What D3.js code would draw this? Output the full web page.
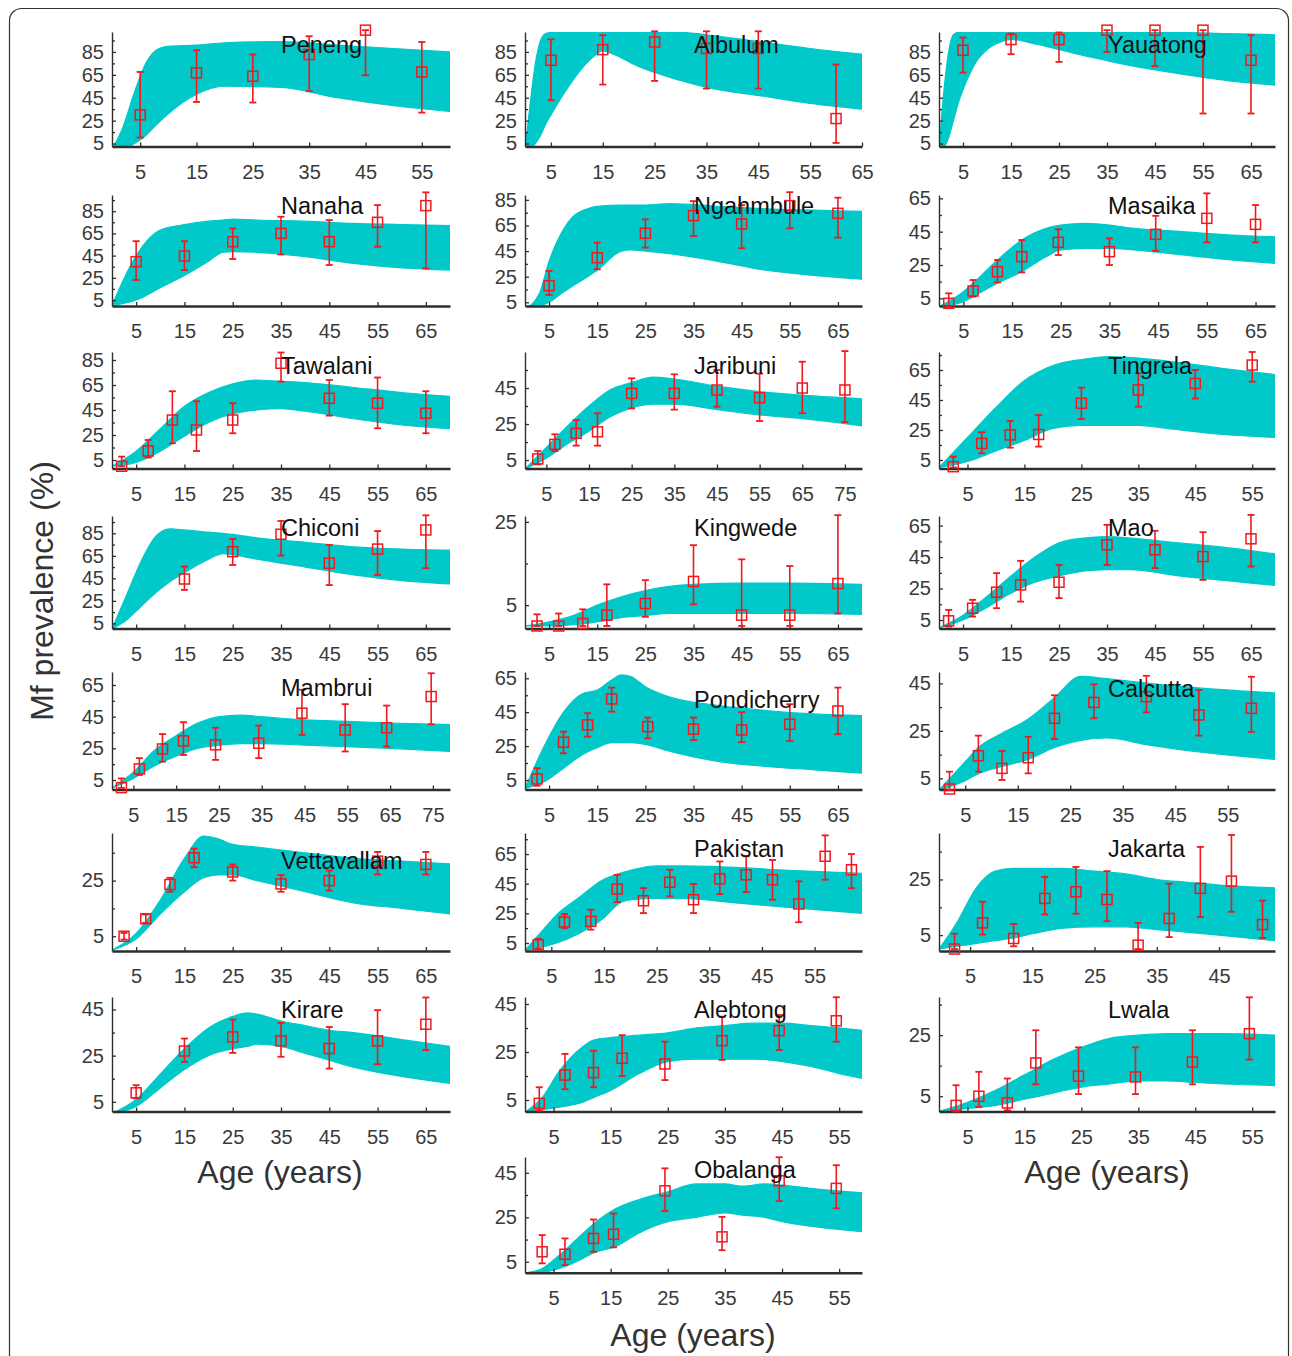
<!DOCTYPE html>
<html>
<head>
<meta charset="utf-8">
<script src="https://cdn.jsdelivr.net/npm/d3@7"></script>
<style>
body { margin: 0; background: #fff; }
svg text { font-family: "Liberation Sans", Arial, Helvetica, sans-serif; }
</style>
</head>
<body>
<div id="chart"></div>
<script>
// Site names, in panel order (3 per row, last one centred)
const sites = ["Peneng", "Albulum", "Yauatong", "Nanaha", "Ngahmbule", "Masaika",
  "Tawalani", "Jaribuni", "Tingrela", "Chiconi", "Kingwede", "Mao",
  "Mambrui", "Pondicherry", "Calcutta", "Vettavallam", "Pakistan", "Jakarta",
  "Kirare", "Alebtong", "Lwala", "Obalanga"];

// Axis extents per panel
const xMax = [60, 65, 70, 70, 70, 69, 70, 79, 59, 70, 70, 70, 79, 70, 64, 70, 64, 54, 70, 59, 59, 59];
const yLo = [2.4, 2.4, 2.4, -0.4, 2.1, 0.4, -1.8, 0.3, -0.7, 0.4, -0.6, -0.4, -1, -0.6, 0.3, -0.3, -0.4, -0.7, 0.8, 0.2, 0, 0.1];
const yHi = [102.4, 102.4, 102.4, 99.6, 88.8, 67, 91.4, 65, 77, 100.4, 26.4, 71.1, 73.2, 68.7, 49.8, 42.1, 79.2, 41.7, 50.4, 47.9, 37.5, 52.1];
const yTicks = [
  [5, 25, 45, 65, 85], [5, 25, 45, 65, 85], [5, 25, 45, 65, 85],
  [5, 25, 45, 65, 85], [5, 25, 45, 65, 85], [5, 25, 45, 65],
  [5, 25, 45, 65, 85], [5, 25, 45], [5, 25, 45, 65],
  [5, 25, 45, 65, 85], [5, 25], [5, 25, 45, 65],
  [5, 25, 45, 65], [5, 25, 45, 65], [5, 25, 45],
  [5, 25], [5, 25, 45, 65], [5, 25],
  [5, 25, 45], [5, 25, 45], [5, 25],
  [5, 25, 45]];

// Observed Mf prevalence: age, value, lower and upper bound of the error bar
const obsAge = [
  [5, 15, 25, 35, 45, 55],
  [5, 15, 25, 35, 45, 60],
  [5, 15, 25, 35, 45, 55, 65],
  [5, 15, 25, 35, 45, 55, 65],
  [5, 15, 25, 35, 45, 55, 65],
  [2, 7, 12, 17, 24.5, 35, 44.5, 55, 65],
  [2, 7.5, 12.5, 17.5, 25, 35, 45, 55, 65],
  [3, 7, 12, 17, 25, 35, 45, 55, 65, 75],
  [2.5, 7.5, 12.5, 17.5, 25, 35, 45, 55],
  [15, 25, 35, 45, 55, 65],
  [2.5, 7, 12, 17, 25, 35, 45, 55, 65],
  [2, 7, 12, 17, 25, 35, 45, 55, 65],
  [2.2, 6.4, 11.8, 16.7, 24.2, 34.3, 44.4, 54.5, 64.2, 74.6],
  [2.5, 8, 13, 18, 25.5, 35, 45, 55, 65],
  [2, 7.5, 12, 17, 22, 29.5, 39.5, 49.5, 59.5],
  [2.5, 7, 12, 17, 25, 35, 45, 55, 65],
  [2.5, 7.5, 12.5, 17.5, 22.5, 27.5, 32, 37, 42, 47, 52, 57, 62],
  [2.5, 7, 12, 17, 22, 27, 32, 37, 42, 47, 52],
  [5, 15, 25, 35, 45, 55, 65],
  [2.5, 7, 12, 17, 24.5, 34.5, 44.5, 54.5],
  [3, 7, 12, 17, 24.5, 34.5, 44.5, 54.5],
  [3, 7, 12, 15.5, 24.5, 34.5, 44.5, 54.5]];
const obsVal = [
  [30, 66.7, 63.8, 82.7, 104, 67.5],
  [77.7, 87, 93.7, 88, 88, 26.8],
  [86.5, 95.8, 95.8, 104, 104, 104, 77.7],
  [39.5, 44.6, 57.5, 65, 57.5, 75, 90],
  [18, 39.8, 58.9, 72.7, 66.2, 80.5, 74.5],
  [2, 9.4, 21, 30, 38.6, 33, 43.4, 53, 49.4],
  [0, 12.2, 37, 29, 37, 82.4, 54.4, 50.4, 42.4],
  [5.6, 13.7, 19.8, 20.7, 42, 42, 43.9, 39.6, 45, 43.9],
  [0.5, 16, 21.7, 22, 42.8, 51.7, 56, 68.3],
  [44.4, 68.7, 84.2, 58.4, 71, 88],
  [0, 0, 0.6, 2.6, 5.4, 10.7, 2.6, 2.6, 10.2],
  [4.5, 12.5, 22.7, 27.3, 29, 52.8, 49.6, 45.3, 56.6],
  [0.2, 12, 24.6, 29.7, 27.2, 28.2, 47.2, 36.6, 38, 57.7],
  [5.6, 27.3, 37.5, 52.8, 36.5, 35, 34.5, 37.9, 45.7],
  [0.5, 14.5, 9.2, 13.7, 30.3, 37, 39.4, 31.7, 34.5],
  [5, 11.3, 23.6, 33.2, 28.1, 23.8, 25, 32, 30.8],
  [3.8, 19.2, 19.6, 41.4, 33.5, 46, 34.2, 48.3, 51, 47.7, 31.3, 63.5, 54.4],
  [0, 9.4, 3.8, 18.2, 20.6, 17.8, 1.4, 11, 21.8, 24.4, 8.8],
  [8.9, 27, 33.1, 31.4, 28.1, 31.4, 38.6],
  [3.6, 15.4, 16.4, 22.4, 20, 29.7, 33.9, 38],
  [2, 5, 2.8, 15.9, 11.6, 11.3, 16.2, 25.5],
  [9.5, 8.4, 15.5, 17.4, 36.9, 16.2, 41.4, 38]];
const obsLow = [
  [10.2, 41.3, 40.8, 50.7, 64.6, 32],
  [42.8, 56.5, 59.7, 53, 53, 5.5],
  [67, 83, 76.3, 85, 72.5, 31.2, 31.2],
  [23, 32, 41.9, 46, 36.5, 53, 33.5],
  [10.7, 30.8, 47.7, 56.8, 47.2, 62.8, 55.5],
  [0, 6, 14.6, 20.6, 31, 25, 33.5, 38.6, 38.6],
  [0, 7, 18.4, 12.2, 26.4, 67.7, 40.5, 30.4, 26.4],
  [2.6, 10, 13, 13, 33.7, 33, 34.6, 26.7, 31, 26],
  [0, 9.5, 13.2, 13.9, 32.3, 40.5, 46, 57.2],
  [34.7, 56.9, 65.2, 39, 48, 54],
  [0, 0, 0, 0, 2.2, 5.2, 0, 0, 3],
  [0.8, 7.2, 12.5, 16.7, 18.9, 40, 38, 30.5, 39],
  [0, 8.2, 16.6, 20.8, 17.7, 18.8, 33.5, 23, 26.1, 40.2],
  [1.6, 20.8, 30.6, 45.3, 29.6, 28.6, 27.3, 28, 32],
  [0, 7.8, 4.3, 7.1, 21.6, 30.3, 32.8, 23, 24.6],
  [3.8, 9.8, 21, 29.8, 25, 21, 21.4, 27.2, 27.2],
  [1.1, 15.1, 14, 32.6, 25.2, 36.5, 25.2, 38, 39.4, 34.2, 19, 47.7, 42],
  [0, 5.2, 1, 12.4, 12.7, 10, 0, 4.3, 11.5, 13.4, 4],
  [6.5, 22.3, 26.2, 24.5, 19.4, 21.3, 27.4],
  [0.5, 9.5, 10.3, 15, 13.3, 21.7, 25.8, 29.3],
  [0, 1.5, 0.4, 8.9, 5.7, 5.7, 8.9, 17],
  [4.3, 3.5, 9.5, 11.5, 27.9, 10.2, 32.3, 29]];
const obsHigh = [
  [67.5, 86.5, 82.7, 98.7, 104, 93.7],
  [96, 99.6, 103, 103, 103, 74],
  [97.6, 101, 102, 104, 104, 104, 99.6],
  [58, 58, 69.5, 80, 77, 90.5, 102],
  [29.5, 51.6, 69.8, 84, 81, 91, 86.7],
  [8, 16, 28, 40, 46.4, 41, 54.5, 68, 61],
  [7.7, 21, 60, 52, 50.4, 91, 69, 71, 60],
  [10, 19.3, 27.2, 31, 50.4, 52.6, 55, 53, 59.6, 65.5],
  [7.2, 23.5, 31, 35, 53.2, 62.8, 65, 77],
  [55.4, 80, 96, 74.7, 87, 101],
  [2.8, 3, 4, 10, 11, 19.4, 16, 14.4, 26.6],
  [11.4, 17.8, 34.8, 42.6, 40, 65.5, 61.7, 60.8, 71.8],
  [6, 18.8, 34, 41.5, 38, 39.4, 62, 52.9, 52, 72.4],
  [12, 33.5, 44.4, 59.5, 41.8, 41.8, 45, 49.7, 59.5],
  [7.8, 23, 16.5, 22.5, 40, 44.6, 48.2, 42.2, 47.8],
  [6.2, 12.8, 26, 36.5, 30.8, 27, 28.6, 35.3, 35.3],
  [7.9, 24.5, 27.4, 51, 42, 54.4, 44.8, 60, 63.5, 61, 46.6, 77.6, 65],
  [5.5, 17, 9, 25.9, 29.5, 28, 9.4, 23.5, 36.7, 41, 17.4],
  [12.2, 32.4, 40.6, 39.2, 37.4, 44.7, 50.2],
  [10.3, 24.2, 25.5, 32, 29.3, 39.7, 40.4, 47.8],
  [8.6, 13, 10.8, 26.6, 21, 21, 26.6, 37.4],
  [17, 15.5, 24, 26.7, 47, 25.2, 52, 48.4]];

// Envelope of the model fits (band of fitted curves): age, lower edge, upper edge
const bandAge = [
  [0, 2, 4, 6, 8, 10, 15, 20, 30, 40, 50, 60],
  [0, 1, 2, 3, 4, 5, 7, 10, 13, 15, 17, 22, 30, 35, 45, 55, 65],
  [0, 1, 2, 3, 4, 6, 8, 10, 13, 15, 20, 30, 40, 50, 60, 70],
  [0, 5, 10, 15, 20, 23, 25, 30, 40, 50, 60, 70],
  [0, 3, 5, 8, 10, 13, 15, 20, 22, 25, 30, 40, 50, 60, 70],
  [0, 5, 7, 12, 17, 22, 25, 30, 35, 40, 50, 60, 69],
  [0, 5, 10, 15, 20, 25, 30, 35, 40, 50, 60, 70],
  [0, 5, 10, 15, 20, 25, 30, 35, 45, 55, 65, 79],
  [0, 5, 10, 15, 20, 25, 30, 35, 40, 50, 59],
  [0, 3, 6, 9, 12, 15, 20, 23, 25, 30, 40, 50, 60, 70],
  [0, 5, 10, 15, 20, 25, 30, 35, 45, 55, 70],
  [0, 5, 10, 15, 20, 25, 30, 35, 40, 50, 60, 70],
  [0, 5, 10, 15, 20, 25, 30, 35, 45, 55, 65, 79],
  [0, 4, 8, 12, 15, 18, 20, 22, 25, 30, 40, 50, 60, 70],
  [0, 5, 7.5, 12, 17, 22, 27, 32, 40, 50, 64],
  [0, 5, 10, 15, 19, 22, 25, 30, 40, 50, 60, 70],
  [0, 3, 6, 10, 15, 18, 20, 25, 30, 40, 50, 64],
  [0, 3, 6, 9, 12, 15, 20, 25, 30, 35, 40, 45, 54],
  [0, 5, 10, 15, 20, 25, 28, 30, 35, 40, 45, 50, 60, 70],
  [0, 3, 6, 10, 12, 15, 20, 25, 30, 35, 40, 45, 50, 55, 59],
  [0, 5, 10, 15, 20, 25, 30, 35, 40, 45, 50, 59],
  [0, 3, 6, 9, 12, 16, 20, 25, 30, 35, 38, 42, 45, 50, 59]];
const bandLow = [
  [0, 0, 5, 12, 22, 31, 48, 55, 54, 45, 38, 33],
  [0, 1, 5, 12, 22, 30, 45, 65, 80, 86, 83, 72, 60, 54, 47, 40, 35],
  [0, 2, 10, 25, 40, 62, 78, 87, 94, 96, 92, 82, 73, 66, 60, 56],
  [0, 5, 16, 27, 40, 48, 48.5, 48, 44, 38, 34, 32],
  [0, 2, 5, 13, 18, 25, 30, 45, 46, 45, 43, 37, 30, 26, 23],
  [0, 3, 6, 14, 21, 30, 34, 35, 35, 34, 31, 28, 26],
  [0, 3, 12, 24, 35, 42, 45, 46, 44, 38, 33, 30],
  [0, 6, 14, 21, 29, 34, 36, 36, 33, 30, 28, 24],
  [0, 4, 11, 18, 26, 28, 28, 28, 26, 22, 20],
  [0, 8, 20, 32, 42, 50, 62, 67, 66, 62, 55, 48, 43, 40],
  [0, 0, 0.3, 1, 2, 2.5, 3, 3, 3, 3, 2.8],
  [0, 5, 13, 22, 29, 33, 36, 37, 37, 33, 30, 27],
  [0, 6, 14, 20, 25, 27, 28, 28, 27, 26, 25, 23],
  [0, 4, 12, 20, 24, 27, 27, 27, 26, 22, 16, 13, 11, 9],
  [0, 4, 7, 10, 13, 18, 21, 22, 19, 16, 13],
  [0, 4, 13, 21, 26, 27, 27, 25, 21, 17, 15, 13],
  [0, 2, 5, 11, 22, 32, 34, 35, 35, 32, 29, 25],
  [0, 1, 2, 3, 4, 5.5, 7.5, 8, 8, 7, 6, 5, 3],
  [0, 3, 11, 19, 25, 28, 29, 30, 29, 26, 23, 20, 16, 13],
  [0, 1, 2, 4, 6, 9, 16, 21, 22, 22, 22, 21, 19, 16, 14],
  [0, 1, 2, 4, 6, 8, 9, 10, 10, 9.5, 9, 8.5],
  [0, 0.3, 2, 5, 9, 12, 18, 23, 25, 27, 26, 25, 23, 21, 18.5]];
const bandHigh = [
  [0, 20, 50, 75, 87, 90, 91, 93, 94, 91, 88, 85],
  [0, 40, 75, 95, 101, 102, 102, 102, 102, 102, 102, 102, 102, 100, 94, 88, 83],
  [0, 50, 85, 100, 102, 102, 102, 102, 102, 102, 102, 102, 102, 102, 101, 100],
  [0, 45, 68, 73, 76, 77, 78, 77, 76, 74, 73, 72],
  [0, 12, 37, 62, 72, 78, 80, 81, 81, 81, 82, 80, 78, 77, 76],
  [0, 9, 14, 28, 40, 47, 49, 50, 49, 47, 45, 43, 42],
  [0, 12, 30, 48, 59, 66, 69, 68, 67, 63, 59, 56],
  [0, 12, 24, 35, 44, 48, 51, 50, 46, 43, 41, 39],
  [0, 20, 40, 58, 68, 72, 74, 73, 71, 66, 62],
  [0, 30, 60, 82, 89, 88, 86, 85, 84, 81, 77, 73, 71, 70],
  [0, 1, 2.5, 5, 7, 8.5, 9.5, 10, 10.3, 10.3, 10],
  [0, 8, 20, 33, 45, 54, 57, 58, 57, 54, 51, 47],
  [0, 10, 24, 33, 41, 45, 46, 45, 43, 42, 41, 40],
  [0, 25, 45, 56, 58, 64, 67, 66, 60, 54, 49, 46, 44, 43],
  [0, 12, 18, 24, 30, 39, 48, 47, 45, 43, 41],
  [0, 6, 18, 33, 41, 40, 38, 37, 35, 33, 32, 31],
  [0, 12, 24, 35, 48, 52, 54, 57, 57, 56, 54, 52],
  [0, 10, 22, 28, 29, 29, 29, 28, 27, 25, 24, 23, 22],
  [0, 6, 17, 28, 37, 42, 43.5, 43, 40, 38, 36, 35, 32, 29],
  [0, 6, 17, 27, 30, 31, 32, 33, 35, 36, 37, 37, 36, 35, 34],
  [0, 3, 7, 12, 17, 21, 24, 25, 25.5, 25.5, 25.5, 25],
  [0, 2, 8, 15, 22, 29, 33, 36.5, 40, 40, 39, 40, 39.5, 38, 36]];

// Page layout
const W = 1292, H = 1356;
const colLeft = [112, 525, 939];
const colRight = [450, 862, 1275];
const rowTop = [32, 195, 352, 516, 672, 833, 997, 1157];
const rowBot = [146.5, 306, 468.5, 628.5, 789.5, 951, 1111.5, 1272.7];
const titleOffset = [13, 13, 13, 11, 11, 11, 14, 14, 14, 12, 12, 12, 16, 28, 17, 28, 16, 16, 13, 13, 13, 13];

const cyan = "#02c9c9";
const red = "#f0191e";

const svg = d3.select("#chart").append("svg")
  .attr("width", W)
  .attr("height", H);

// Rounded outer frame
svg.append("rect")
  .attr("x", 9.5).attr("y", 8.5)
  .attr("width", 1279).attr("height", 1400)
  .attr("rx", 12)
  .attr("fill", "none")
  .attr("stroke", "#333")
  .attr("stroke-width", 1.2);

const defs = svg.append("defs");

sites.forEach((name, i) => {
  const row = i < 21 ? Math.floor(i / 3) : 7;
  const col = i < 21 ? i % 3 : 1;

  const x = d3.scaleLinear().domain([0, xMax[i]]).range([colLeft[col], colRight[col]]);
  const y = d3.scaleLinear().domain([yLo[i], yHi[i]]).range([rowBot[row], rowTop[row]]);

  const g = svg.append("g").attr("class", "panel");

  // Clip the band to the plot box
  defs.append("clipPath").attr("id", "clip" + i)
    .append("rect")
    .attr("x", colLeft[col]).attr("y", rowTop[row])
    .attr("width", colRight[col] - colLeft[col])
    .attr("height", rowBot[row] - rowTop[row]);

  const band = bandAge[i].map((a, k) => ({age: a, lo: bandLow[i][k], hi: bandHigh[i][k]}));

  const area = d3.area()
    .x(d => x(d.age))
    .y0(d => y(d.lo))
    .y1(d => y(d.hi))
    .curve(d3.curveMonotoneX);

  const bandG = g.append("g").attr("clip-path", "url(#clip" + i + ")");
  bandG.append("path")
    .datum(band)
    .attr("fill", cyan)
    .attr("stroke", cyan)
    .attr("stroke-width", 1.2)
    .attr("d", area);

  // Axes
  const xAxis = d3.axisBottom(x)
    .tickValues(d3.range(5, xMax[i] + 1, 10))
    .tickSize(-4)
    .tickSizeOuter(0)
    .tickPadding(18)
    .tickFormat(d3.format("d"));
  const gx = g.append("g")
    .attr("transform", "translate(0," + rowBot[row] + ")")
    .call(xAxis);
  gx.select(".domain").attr("stroke", "#2e2e2e").attr("stroke-width", 2.4);

  const yAxis = d3.axisLeft(y)
    .tickValues(yTicks[i])
    .tickSize(-4)
    .tickSizeOuter(0)
    .tickPadding(8)
    .tickFormat(d3.format("d"));
  const gy = g.append("g")
    .attr("transform", "translate(" + colLeft[col] + ",0)")
    .call(yAxis);
  gy.select(".domain").attr("stroke", "#2e2e2e").attr("stroke-width", 1.4);

  const minor = d3.range(5, yHi[i], 10).filter(v => v >= yLo[i] && !yTicks[i].includes(v));
  g.append("g")
    .attr("transform", "translate(" + colLeft[col] + ",0)")
    .call(d3.axisLeft(y).tickValues(minor).tickSize(-3).tickSizeOuter(0).tickFormat(""))
    .select(".domain").remove();

  g.selectAll(".tick line").attr("stroke", "#2e2e2e").attr("stroke-width", 1.3);
  g.selectAll(".tick text")
    .attr("fill", "#3a3a3a")
    .style("font-size", "20px");

  // Observed data: error bars and open squares
  const obs = obsAge[i].map((a, k) => ({age: a, v: obsVal[i][k], lo: obsLow[i][k], hi: obsHigh[i][k]}));
  const pts = g.append("g").attr("class", "obs");
  pts.selectAll(".bar").data(obs).join("line")
    .attr("x1", d => x(d.age)).attr("x2", d => x(d.age))
    .attr("y1", d => y(d.lo)).attr("y2", d => y(d.hi))
    .attr("stroke", red).attr("stroke-width", 1.6);
  pts.selectAll(".capHi").data(obs).join("line")
    .attr("x1", d => x(d.age) - 3.5).attr("x2", d => x(d.age) + 3.5)
    .attr("y1", d => y(d.hi)).attr("y2", d => y(d.hi))
    .attr("stroke", red).attr("stroke-width", 1.8);
  pts.selectAll(".capLo").data(obs).join("line")
    .attr("x1", d => x(d.age) - 3.5).attr("x2", d => x(d.age) + 3.5)
    .attr("y1", d => y(d.lo)).attr("y2", d => y(d.lo))
    .attr("stroke", red).attr("stroke-width", 1.8);
  pts.selectAll("rect").data(obs).join("rect")
    .attr("x", d => x(d.age) - 5)
    .attr("y", d => y(d.v) - 5)
    .attr("width", 10).attr("height", 10)
    .attr("fill", "none")
    .attr("stroke", red)
    .attr("stroke-width", 1.5);

  // Site name
  g.append("text")
    .attr("x", colLeft[col] + 169)
    .attr("y", rowTop[row] + titleOffset[i] + 8)
    .attr("fill", "#111")
    .style("font-size", "23.5px")
    .text(name);
});

// Axis titles
const ageLabels = [[280, 1183], [1107, 1183], [693, 1346]];
svg.selectAll(".agelab").data(ageLabels).join("text")
  .attr("class", "agelab")
  .attr("x", d => d[0])
  .attr("y", d => d[1])
  .attr("text-anchor", "middle")
  .attr("fill", "#333")
  .style("font-size", "32px")
  .text("Age (years)");

svg.append("text")
  .attr("transform", "translate(52.5,591) rotate(-90)")
  .attr("text-anchor", "middle")
  .attr("fill", "#333")
  .style("font-size", "32px")
  .text("Mf prevalence (%)");
</script>
</body>
</html>
